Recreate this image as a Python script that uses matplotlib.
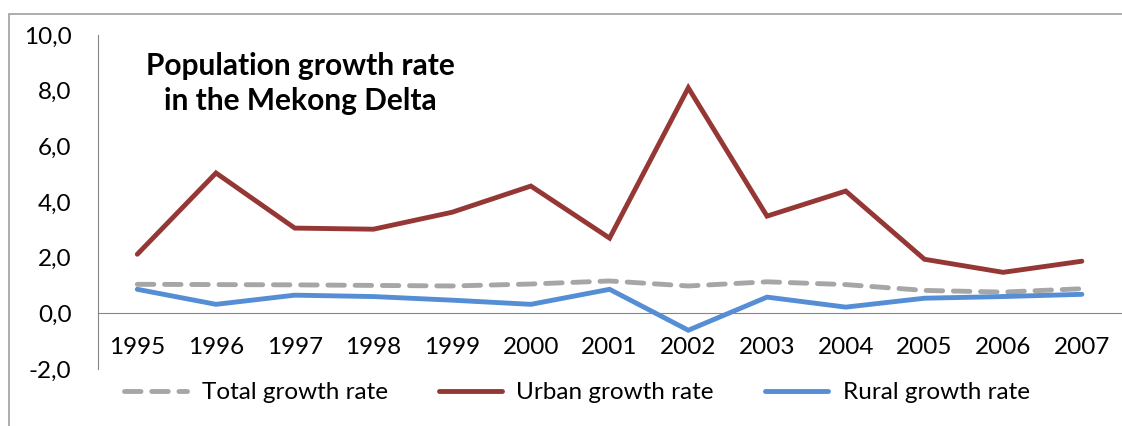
import matplotlib.pyplot as plt
from matplotlib.patches import Rectangle
from matplotlib.ticker import FuncFormatter

# data
years = ['1995', '1996', '1997', '1998', '1999', '2000', '2001',
         '2002', '2003', '2004', '2005', '2006', '2007']
total_rate = [1.04, 1.03, 1.02, 1.00, 0.98, 1.05, 1.16, 0.98, 1.13, 1.03, 0.82, 0.76, 0.88]
urban_rate = [2.12, 5.04, 3.06, 3.02, 3.63, 4.57, 2.70, 8.10, 3.49, 4.39, 1.94, 1.47, 1.87]
rural_rate = [0.86, 0.32, 0.65, 0.60, 0.47, 0.32, 0.86, -0.61, 0.58, 0.22, 0.54, 0.60, 0.68]

plt.rcParams['font.family'] = ['Lato', 'DejaVu Sans']

fig = plt.figure(figsize=(11.22, 4.26), dpi=100)
ax = fig.add_axes([0.0873, 0.134, 0.912, 0.784])

x = list(range(len(years)))
ax.plot(x, total_rate, color='#A6A6A6', lw=3.5, dashes=(3.4, 2.2),
        dash_capstyle='round', label='Total growth rate')
ax.plot(x, urban_rate, color='#953735', lw=3.5, solid_capstyle='round',
        solid_joinstyle='miter', label='Urban growth rate')
ax.plot(x, rural_rate, color='#558ED5', lw=3.5, solid_capstyle='round',
        solid_joinstyle='miter', label='Rural growth rate')

ax.set_xlim(-0.5, 12.5)
ax.set_ylim(-2, 10)
ax.set_yticks([-2, 0, 2, 4, 6, 8, 10])
ax.yaxis.set_major_formatter(FuncFormatter(lambda v, p: f'{v:.1f}'.replace('.', ',')))
ax.set_xticks(x)
ax.set_xticklabels(years)

for s in ['top', 'right']:
    ax.spines[s].set_visible(False)
ax.spines['left'].set_color('#868686')
ax.spines['bottom'].set_color('#868686')
ax.spines['bottom'].set_position(('data', 0))
ax.tick_params(axis='y', length=0, pad=19, labelsize=17.5)
ax.tick_params(axis='x', length=0, pad=17, labelsize=17.5)

fig.text(0.2674, 0.803, 'Population growth rate\nin the Mekong Delta',
         ha='center', va='center', fontsize=21.5, fontweight='bold',
         linespacing=1.3)

leg = fig.legend(loc='center', bbox_to_anchor=(0.514, 0.078), ncol=3,
                 frameon=False, fontsize=17.5, handlelength=2.6,
                 columnspacing=2.1, handletextpad=0.6)

# outer chart border
fig.patches.append(Rectangle((9 / 1122, -0.1), 1.2, 1 - 14 / 426 + 0.1,
                             transform=fig.transFigure, fill=False,
                             edgecolor='#A0A0A0', lw=1.2))

fig.savefig('out.png', dpi=100)
